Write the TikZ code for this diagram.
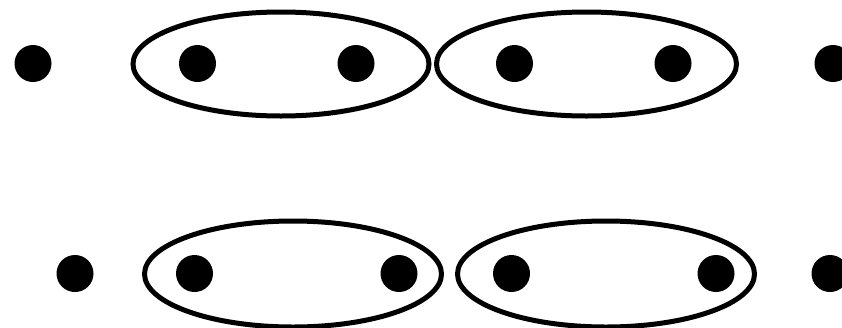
\documentclass[tikz,border=0pt]{standalone}
\usetikzlibrary{shapes.geometric}
\begin{document}
\begin{tikzpicture}[x=1pt,y=-1pt,
  dotnode/.style={circle,fill=black,inner sep=0pt,minimum size=37pt},
  pairbox/.style={ellipse,draw=black,line width=5pt,inner sep=0pt,minimum width=296pt,minimum height=104pt}]
\useasboundingbox (0,0) rectangle (842,327);
% top row
\node[dotnode] (t1) at (33,63.5) {};
\node[dotnode] (t2) at (197.5,63.5) {};
\node[dotnode] (t3) at (356,63.5) {};
\node[dotnode] (t4) at (514.5,63.5) {};
\node[dotnode] (t5) at (673,63.5) {};
\node[dotnode] (t6) at (833,63.5) {};
\node[pairbox] (te1) at (281,64) {};
\node[pairbox,minimum width=300pt] (te2) at (586.5,64) {};
% bottom row
\node[dotnode] (b1) at (75,273.5) {};
\node[dotnode] (b2) at (194.5,273.5) {};
\node[dotnode] (b3) at (399,273.5) {};
\node[dotnode] (b4) at (511.5,273.5) {};
\node[dotnode] (b5) at (716,273.5) {};
\node[dotnode] (b6) at (830,273.5) {};
\node[pairbox,minimum width=297pt,minimum height=106pt] (be1) at (293,274) {};
\node[pairbox,minimum width=297pt,minimum height=106pt] (be2) at (606,274) {};
\end{tikzpicture}
\end{document}
